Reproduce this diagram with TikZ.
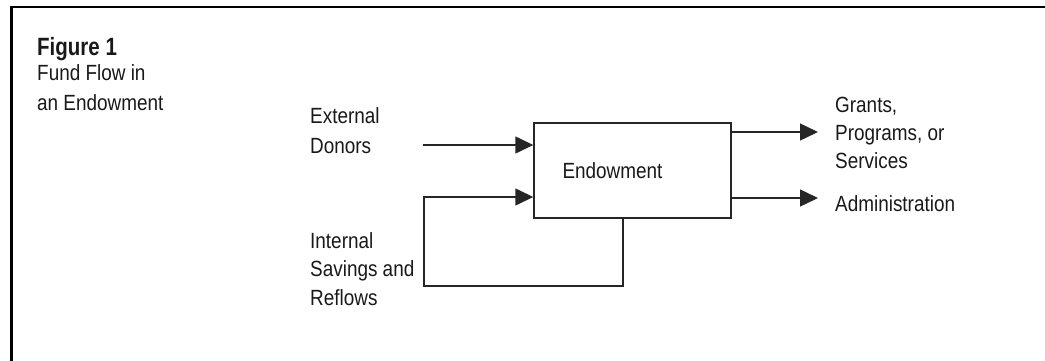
\documentclass[tikz,border=0pt]{standalone}
\usepackage{fontspec}
\setmainfont{Liberation Sans}[FakeStretch=0.86]
\newfontfamily\figfont{Liberation Sans}[FakeStretch=0.82]
\usetikzlibrary{arrows.meta}
\begin{document}
\begin{tikzpicture}[x=1pt,y=-1pt,
  lbl/.style={anchor=base west,inner sep=0pt,align=left,text=black!90,
    font=\fontsize{22}{29}\selectfont},
  conn/.style={line width=1.4pt,draw=black!85},
  arr/.style={conn,-{Triangle[length=18pt,width=17pt]}},
  boxstyle/.style={draw=black!85,line width=1.4pt,minimum width=197pt,minimum height=95pt,
    inner sep=0pt,font=\fontsize{22}{29}\selectfont,text=black!90}]
\useasboundingbox (0,0) rectangle (1045,360);
% frame
\draw[line width=2.7pt,line cap=rect] (11.3,365) -- (11.3,7) -- (1050,7);
% title (base anchor = last line's baseline)
\node[lbl,font=\figfont\bfseries\fontsize{25}{29}\selectfont] (fig) at (37,55) {Figure 1};
\node[lbl,font=\fontsize{22}{30}\selectfont] (sub) at (37,110) {Fund Flow in\\an Endowment};
% box
\node[boxstyle] (endow) at (632.5,170.5) {Endowment\kern40pt};
% labels
\node[lbl,font=\fontsize{22}{30}\selectfont] (ext) at (310,153) {External\\Donors};
\node[lbl,font=\fontsize{22}{28.5}\selectfont] (int) at (310,305) {Internal\\Savings and\\Reflows};
\node[lbl,font=\fontsize{22}{28}\selectfont] (gr) at (835,168) {Grants,\\Programs, or\\Services};
\node[lbl] (adm) at (835,211) {Administration};
% connectors
\coordinate (ed) at (423,145);
\draw[arr] (ed) -- (ed -| endow.west);
\coordinate (ls) at ([xshift=-9.5pt]endow.south);
\coordinate (lb) at (424,286);
\coordinate (lt) at (424,197);
\draw[arr] (ls) |- (lb) -- (lt) -- (lt -| endow.west);
\coordinate (g) at (818,132);
\coordinate (a) at (818,198);
\draw[arr] (g -| endow.east) -- (g);
\draw[arr] (a -| endow.east) -- (a);
\end{tikzpicture}
\end{document}
